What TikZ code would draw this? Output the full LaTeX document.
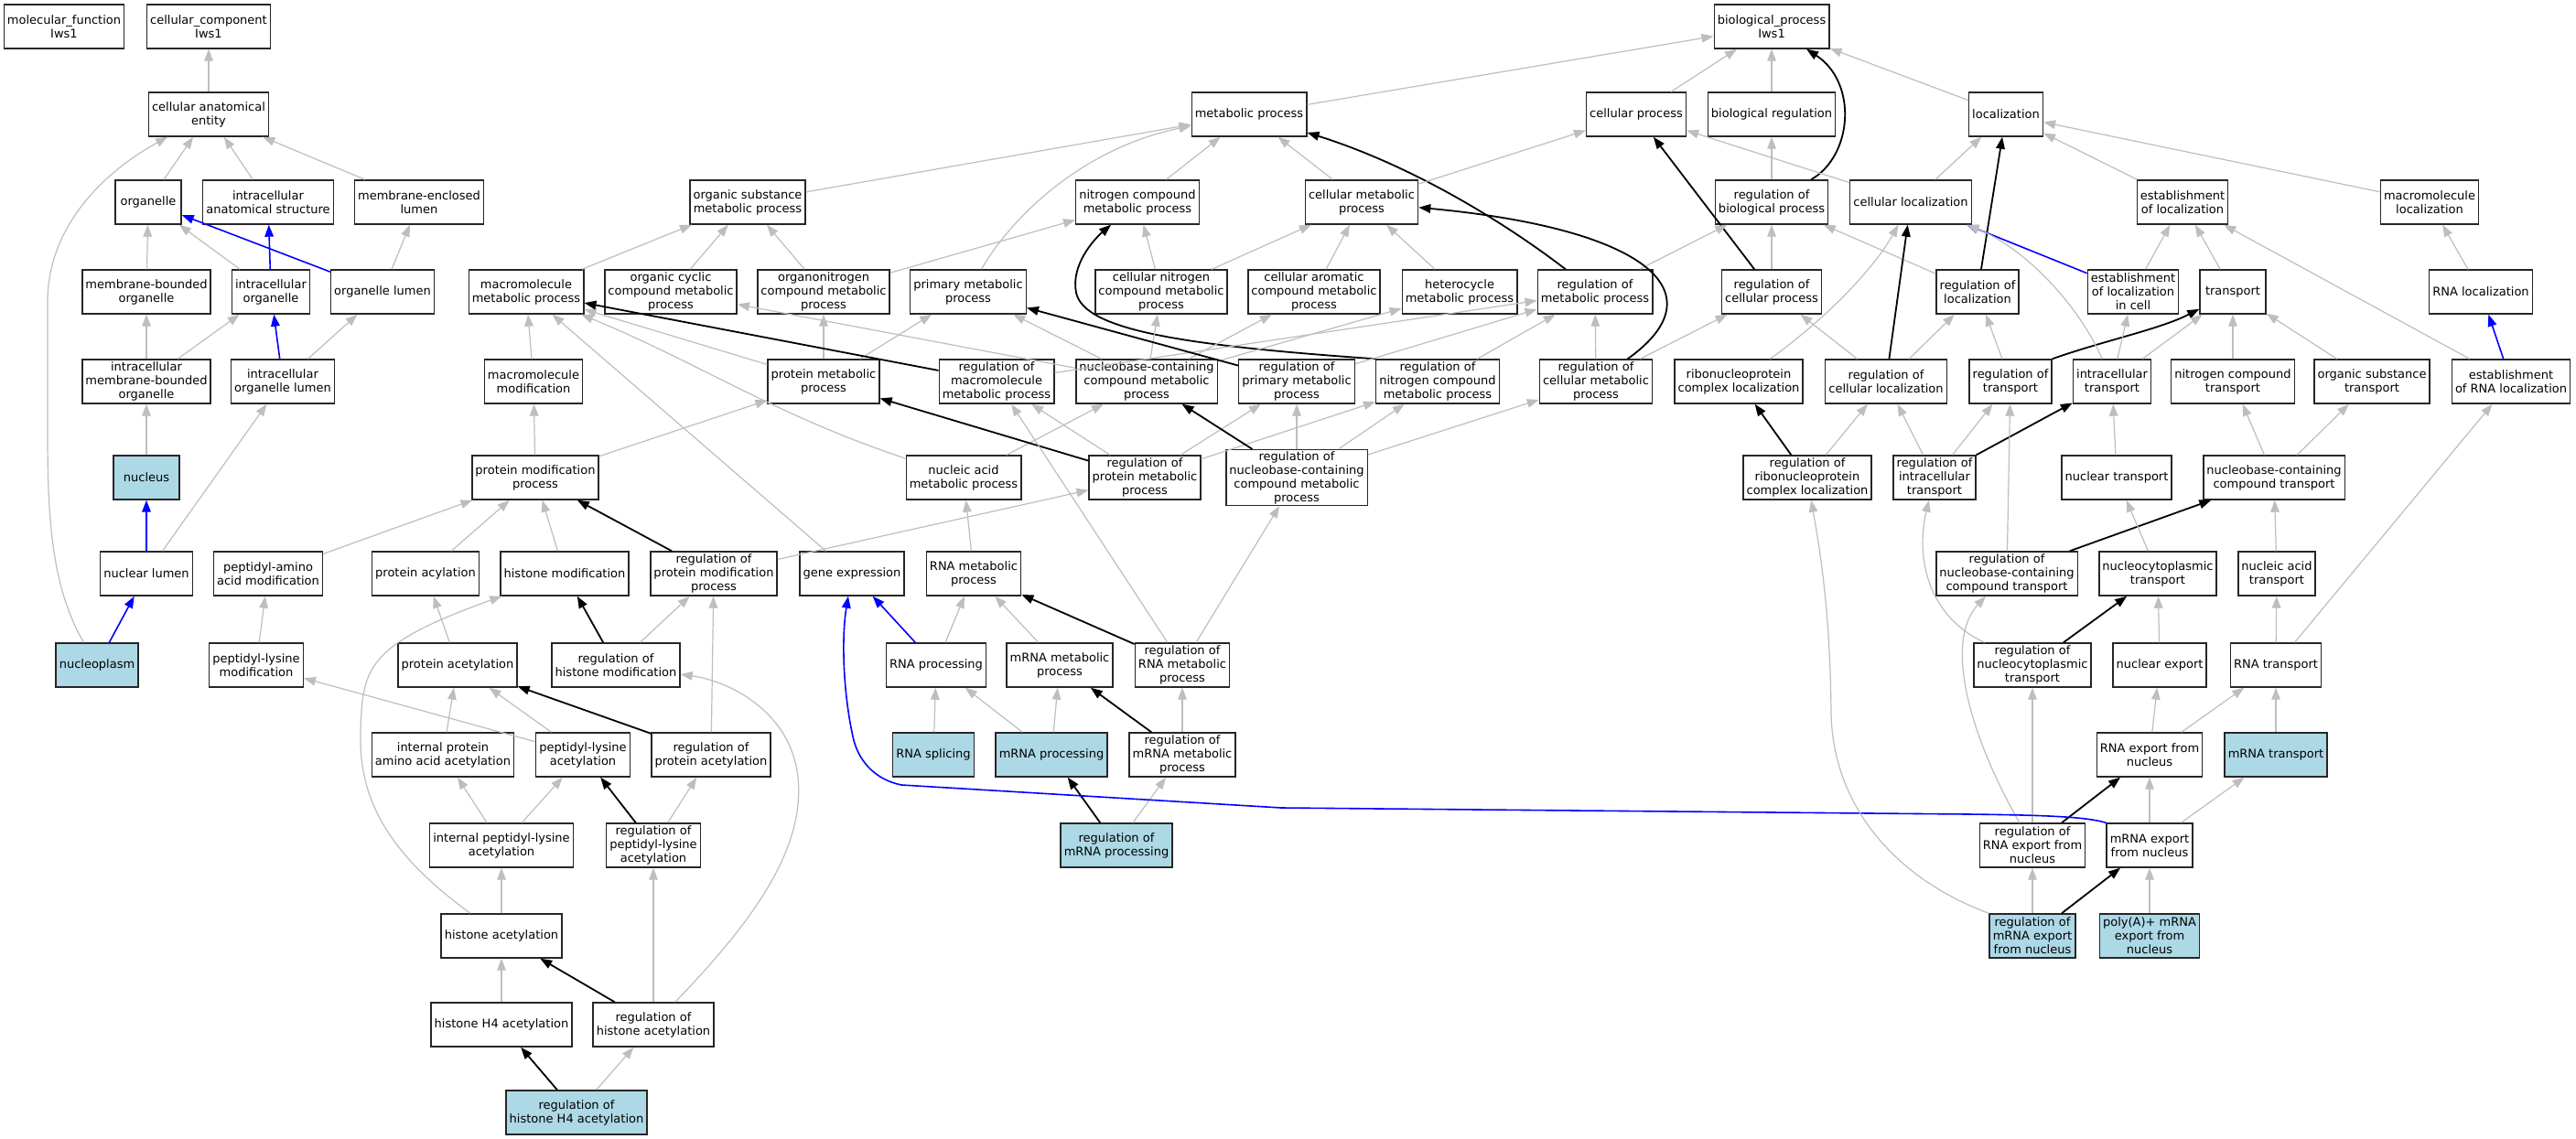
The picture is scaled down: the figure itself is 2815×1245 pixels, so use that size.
\documentclass[tikz,border=0pt]{standalone}
\usepackage{fontspec}
\setmainfont{DejaVu Sans}
\usetikzlibrary{arrows.meta}
\definecolor{hitblue}{HTML}{ADD8E6}
\definecolor{isagray}{HTML}{BEBEBE}

\begin{document}
\begin{tikzpicture}[x=0.5pt, y=-0.5pt,
  term/.style={draw=black!85, line width=0.7pt, fill=white, align=center,
    minimum width=36pt, minimum height=24pt, inner xsep=1.8pt, inner ysep=0.8pt,
    font=\fontsize{6.5pt}{7.5pt}\selectfont},
  hit/.style={term, fill=hitblue},
  isa/.style={draw=isagray, line width=0.6pt, -{Triangle[length=6.5pt,width=4.8pt]}},
  regs/.style={draw=black, line width=0.9pt, -{Triangle[length=6.5pt,width=4.8pt]}},
  partof/.style={draw=blue, line width=0.8pt, -{Triangle[length=6.5pt,width=4.8pt]}}]
  \path[fill=white] (0,0) rectangle (2815,1245);
  \useasboundingbox (0,0) rectangle (2815,1245);

  \node[term] (mf) at (70,29) {molecular\_function\\Iws1};
  \node[term] (cc) at (228,29) {cellular\_component\\Iws1};
  \node[term] (cae) at (228,125) {cellular anatomical\\entity};
  \node[term] (organelle) at (162,221) {organelle};
  \node[term] (intraAnat) at (293,221) {intracellular\\anatomical structure};
  \node[term] (memEnclLumen) at (458,221) {membrane-enclosed\\lumen};
  \node[term] (memBoundOrg) at (160,319) {membrane-bounded\\organelle};
  \node[term] (intraOrg) at (296,319) {intracellular\\organelle};
  \node[term] (orgLumen) at (418,319) {organelle lumen};
  \node[term] (intraMemBoundOrg) at (160,417) {intracellular\\membrane-bounded\\organelle};
  \node[term] (intraOrgLumen) at (309,417) {intracellular\\organelle lumen};
  \node[hit] (nucleus) at (160,522) {nucleus};
  \node[term] (nucLumen) at (160,627) {nuclear lumen};
  \node[hit] (nucleoplasm) at (106,727) {nucleoplasm};

  \node[term] (macroMet) at (575,319) {macromolecule\\metabolic process};
  \node[term] (macroMod) at (583,417) {macromolecule\\modification};
  \node[term] (protMod) at (585,522) {protein modification\\process};
  \node[term] (peptAAMod) at (293,627) {peptidyl-amino\\acid modification};
  \node[term] (protAcyl) at (465,627) {protein acylation};
  \node[term] (histMod) at (617,627) {histone modification};
  \node[term] (peptLysMod) at (280,727) {peptidyl-lysine\\modification};
  \node[term] (protAcet) at (500,727) {protein acetylation};
  \node[term] (regHistMod) at (673,727) {regulation of\\histone modification};
  \node[term] (intProtAAAcet) at (484,825) {internal protein\\amino acid acetylation};
  \node[term] (peptLysAcet) at (637,825) {peptidyl-lysine\\acetylation};
  \node[term] (regProtAcet) at (777,825) {regulation of\\protein acetylation};
  \node[term] (intPeptLysAcet) at (548,924) {internal peptidyl-lysine\\acetylation};
  \node[term] (regPeptLysAcet) at (714,924) {regulation of\\peptidyl-lysine\\acetylation};
  \node[term] (histAcet) at (548,1023) {histone acetylation};
  \node[term] (histHFourAcet) at (548,1120) {histone H4 acetylation};
  \node[term] (regHistAcet) at (714,1120) {regulation of\\histone acetylation};
  \node[hit] (regHistHFourAcet) at (630,1216) {regulation of\\histone H4 acetylation};

  \node[term] (metabolic) at (1365,125) {metabolic process};
  \node[term] (orgSubMet) at (817,221) {organic substance\\metabolic process};
  \node[term] (nitroMet) at (1243,221) {nitrogen compound\\metabolic process};
  \node[term] (cellMet) at (1488,221) {cellular metabolic\\process};
  \node[term] (orgCycMet) at (733,319) {organic cyclic\\compound metabolic\\process};
  \node[term] (organoNitroMet) at (900,319) {organonitrogen\\compound metabolic\\process};
  \node[term] (primMet) at (1058,319) {primary metabolic\\process};
  \node[term] (cellNitroMet) at (1269,319) {cellular nitrogen\\compound metabolic\\process};
  \node[term] (cellAromMet) at (1436,319) {cellular aromatic\\compound metabolic\\process};
  \node[term] (heteroMet) at (1595,319) {heterocycle\\metabolic process};
  \node[term] (regMet) at (1743,319) {regulation of\\metabolic process};
  \node[term] (protMet) at (900,417) {protein metabolic\\process};
  \node[term] (regMacroMet) at (1089,417) {regulation of\\macromolecule\\metabolic process};
  \node[term] (nucBaseMet) at (1253,417) {nucleobase-containing\\compound metabolic\\process};
  \node[term] (regPrimMet) at (1417,417) {regulation of\\primary metabolic\\process};
  \node[term] (regNitroMet) at (1571,417) {regulation of\\nitrogen compound\\metabolic process};
  \node[term] (regCellMet) at (1744,417) {regulation of\\cellular metabolic\\process};
  \node[term] (nucAcidMet) at (1053,522) {nucleic acid\\metabolic process};
  \node[term] (regProtMet) at (1251,522) {regulation of\\protein metabolic\\process};
  \node[term] (regNucBaseMet) at (1417,522) {regulation of\\nucleobase-containing\\compound metabolic\\process};
  \node[term] (regProtMod) at (780,627) {regulation of\\protein modification\\process};
  \node[term] (geneExpr) at (931,627) {gene expression};
  \node[term] (rnaMet) at (1064,627) {RNA metabolic\\process};
  \node[term] (rnaProc) at (1023,727) {RNA processing};
  \node[term] (mrnaMet) at (1158,727) {mRNA metabolic\\process};
  \node[term] (regRnaMet) at (1292,727) {regulation of\\RNA metabolic\\process};
  \node[hit] (rnaSplice) at (1020,825) {RNA splicing};
  \node[hit] (mrnaProc) at (1149,825) {mRNA processing};
  \node[term] (regMrnaMet) at (1292,825) {regulation of\\mRNA metabolic\\process};
  \node[hit] (regMrnaProc) at (1220,924) {regulation of\\mRNA processing};

  \node[term] (bp) at (1936,29) {biological\_process\\Iws1};
  \node[term] (cellProc) at (1788,125) {cellular process};
  \node[term] (bioReg) at (1936,125) {biological regulation};
  \node[term] (regBioProc) at (1936,221) {regulation of\\biological process};
  \node[term] (cellLoc) at (2088,221) {cellular localization};
  \node[term] (regCellProc) at (1936,319) {regulation of\\cellular process};
  \node[term] (rnpLoc) at (1900,417) {ribonucleoprotein\\complex localization};
  \node[term] (regCellLoc) at (2061,417) {regulation of\\cellular localization};
  \node[term] (regRnpLoc) at (1975,522) {regulation of\\ribonucleoprotein\\complex localization};

  \node[term] (localization) at (2192,125) {localization};
  \node[term] (estLoc) at (2385,221) {establishment\\of localization};
  \node[term] (macroLoc) at (2655,221) {macromolecule\\localization};
  \node[term] (regLoc) at (2161,319) {regulation of\\localization};
  \node[term] (estLocCell) at (2331,319) {establishment\\of localization\\in cell};
  \node[term] (transport) at (2440,319) {transport};
  \node[term] (rnaLoc) at (2711,319) {RNA localization};
  \node[term] (regTransport) at (2197,417) {regulation of\\transport};
  \node[term] (intraTransport) at (2308,417) {intracellular\\transport};
  \node[term] (nitroTransport) at (2440,417) {nitrogen compound\\transport};
  \node[term] (orgSubTransport) at (2592,417) {organic substance\\transport};
  \node[term] (estRnaLoc) at (2744,417) {establishment\\of RNA localization};
  \node[term] (regIntraTransport) at (2114,522) {regulation of\\intracellular\\transport};
  \node[term] (nucTransport) at (2313,522) {nuclear transport};
  \node[term] (nucBaseTransport) at (2485,522) {nucleobase-containing\\compound transport};
  \node[term] (regNucBaseTransport) at (2193,627) {regulation of\\nucleobase-containing\\compound transport};
  \node[term] (nucCytoTransport) at (2358,627) {nucleocytoplasmic\\transport};
  \node[term] (nucAcidTransport) at (2488,627) {nucleic acid\\transport};
  \node[term] (regNucCytoTransport) at (2221,727) {regulation of\\nucleocytoplasmic\\transport};
  \node[term] (nucExport) at (2360,727) {nuclear export};
  \node[term] (rnaTransport) at (2487,727) {RNA transport};
  \node[term] (rnaExport) at (2349,825) {RNA export from\\nucleus};
  \node[hit] (mrnaTransport) at (2487,825) {mRNA transport};
  \node[term] (regRnaExport) at (2221,924) {regulation of\\RNA export from\\nucleus};
  \node[term] (mrnaExport) at (2349,924) {mRNA export\\from nucleus};
  \node[hit] (regMrnaExport) at (2221,1023) {regulation of\\mRNA export\\from nucleus};
  \node[hit] (polyAExport) at (2349,1023) {poly(A)+ mRNA\\export from\\nucleus};

  \draw[isa] (cae) -- (cc);
  \draw[isa] (organelle) -- (cae);
  \draw[isa] (intraAnat) -- (cae);
  \draw[isa] (memEnclLumen) -- (cae);
  \draw[isa] (nucleoplasm) .. controls (55,640) and (52,560) .. (52,470) -- (52,330) .. controls (52,250) and (110,190) .. (cae);
  \draw[isa] (memBoundOrg) -- (organelle);
  \draw[isa] (intraOrg) -- (organelle);
  \draw[partof] (orgLumen) -- (organelle);
  \draw[partof] (intraOrg) -- (intraAnat);
  \draw[isa] (orgLumen) -- (memEnclLumen);
  \draw[isa] (intraMemBoundOrg) -- (memBoundOrg);
  \draw[isa] (intraMemBoundOrg) -- (intraOrg);
  \draw[partof] (intraOrgLumen) -- (intraOrg);
  \draw[isa] (intraOrgLumen) -- (orgLumen);
  \draw[isa] (nucleus) -- (intraMemBoundOrg);
  \draw[partof] (nucLumen) -- (nucleus);
  \draw[isa] (nucLumen) -- (intraOrgLumen);
  \draw[partof] (nucleoplasm) -- (nucLumen);

  \draw[isa] (metabolic) -- (bp);
  \draw[isa] (cellProc) -- (bp);
  \draw[isa] (bioReg) -- (bp);
  \draw[isa] (localization) -- (bp);
  \draw[regs] (regBioProc) .. controls (2025,170) and (2030,90) .. (bp);
  \draw[isa] (orgSubMet) -- (metabolic);
  \draw[isa] (primMet) .. controls (1110,230) and (1190,160) .. (metabolic);
  \draw[isa] (nitroMet) -- (metabolic);
  \draw[isa] (cellMet) -- (metabolic);
  \draw[regs] (regMet) .. controls (1640,240) and (1540,180) .. (metabolic);
  \draw[isa] (cellMet) -- (cellProc);
  \draw[isa] (cellLoc) -- (cellProc);
  \draw[regs] (regCellProc) -- (cellProc);
  \draw[isa] (regBioProc) -- (bioReg);
  \draw[isa] (regCellProc) -- (regBioProc);
  \draw[isa] (regMet) -- (regBioProc);
  \draw[isa] (regLoc) -- (regBioProc);

  \draw[isa] (orgCycMet) -- (orgSubMet);
  \draw[isa] (organoNitroMet) -- (orgSubMet);
  \draw[isa] (macroMet) -- (orgSubMet);
  \draw[isa] (organoNitroMet) -- (nitroMet);
  \draw[isa] (cellNitroMet) -- (nitroMet);
  \draw[regs] (regNitroMet.north west) .. controls (1300,378) and (1185,362) .. (1176,320) .. controls (1170,290) and (1195,262) .. (nitroMet);
  \draw[isa] (cellNitroMet) -- (cellMet);
  \draw[isa] (cellAromMet) -- (cellMet);
  \draw[isa] (heteroMet) -- (cellMet);
  \draw[regs] (regCellMet) .. controls (1880,320) and (1800,250) .. (cellMet);
  \draw[isa] (protMet) -- (macroMet);
  \draw[isa] (protMet) -- (organoNitroMet);
  \draw[isa] (protMet) -- (primMet);
  \draw[regs] (regMacroMet) -- (macroMet);
  \draw[isa] (regMacroMet) -- (regMet);
  \draw[isa] (nucBaseMet) -- (orgCycMet);
  \draw[isa] (nucBaseMet) -- (primMet);
  \draw[isa] (nucBaseMet) -- (cellNitroMet);
  \draw[isa] (nucBaseMet) -- (cellAromMet);
  \draw[isa] (nucBaseMet) -- (heteroMet);
  \draw[regs] (regPrimMet) -- (primMet);
  \draw[isa] (regPrimMet) -- (regMet);
  \draw[isa] (regNitroMet) -- (regMet);
  \draw[isa] (regCellMet) -- (regMet);
  \draw[isa] (regCellMet) -- (regCellProc);
  \draw[isa] (nucAcidMet) -- (nucBaseMet);
  \draw[isa] (nucAcidMet) .. controls (850,455) and (760,395) .. (macroMet);
  \draw[regs] (regProtMet) -- (protMet);
  \draw[isa] (regProtMet) -- (regMacroMet);
  \draw[isa] (regProtMet) -- (regPrimMet);
  \draw[isa] (regProtMet) -- (regNitroMet);
  \draw[regs] (regNucBaseMet) -- (nucBaseMet);
  \draw[isa] (regNucBaseMet) -- (regPrimMet);
  \draw[isa] (regNucBaseMet) -- (regNitroMet);
  \draw[isa] (regNucBaseMet) -- (regCellMet);
  \draw[isa] (geneExpr) -- (macroMet);
  \draw[isa] (rnaMet) -- (nucAcidMet);
  \draw[isa] (rnaProc) -- (rnaMet);
  \draw[partof] (rnaProc) -- (geneExpr);
  \draw[isa] (mrnaMet) -- (rnaMet);
  \draw[regs] (regRnaMet) -- (rnaMet);
  \draw[isa] (regRnaMet) -- (regMacroMet);
  \draw[isa] (regRnaMet) -- (regNucBaseMet);
  \draw[isa] (rnaSplice) -- (rnaProc);
  \draw[isa] (mrnaProc) -- (rnaProc);
  \draw[isa] (mrnaProc) -- (mrnaMet);
  \draw[regs] (regMrnaMet) -- (mrnaMet);
  \draw[isa] (regMrnaMet) -- (regRnaMet);
  \draw[regs] (regMrnaProc) -- (mrnaProc);
  \draw[isa] (regMrnaProc) -- (regMrnaMet);

  \draw[isa] (macroMod) -- (macroMet);
  \draw[isa] (protMod) -- (macroMod);
  \draw[isa] (protMod) -- (protMet);
  \draw[isa] (peptAAMod) -- (protMod);
  \draw[isa] (protAcyl) -- (protMod);
  \draw[isa] (histMod) -- (protMod);
  \draw[regs] (regProtMod) -- (protMod);
  \draw[isa] (regProtMod) -- (regProtMet);
  \draw[isa] (peptLysMod) -- (peptAAMod);
  \draw[isa] (protAcet) -- (protAcyl);
  \draw[regs] (regHistMod) -- (histMod);
  \draw[isa] (regHistMod) -- (regProtMod);
  \draw[isa] (histAcet) .. controls (420,930) and (392,870) .. (394,800) .. controls (396,730) and (400,705) .. (histMod);
  \draw[isa] (peptLysAcet) -- (peptLysMod);
  \draw[isa] (peptLysAcet) -- (protAcet);
  \draw[isa] (intProtAAAcet) -- (protAcet);
  \draw[regs] (regProtAcet) -- (protAcet);
  \draw[isa] (regProtAcet) -- (regProtMod);
  \draw[isa] (intPeptLysAcet) -- (intProtAAAcet);
  \draw[isa] (intPeptLysAcet) -- (peptLysAcet);
  \draw[regs] (regPeptLysAcet) -- (peptLysAcet);
  \draw[isa] (regPeptLysAcet) -- (regProtAcet);
  \draw[isa] (histAcet) -- (intPeptLysAcet);
  \draw[regs] (regHistAcet) -- (histAcet);
  \draw[isa] (regHistAcet) -- (regPeptLysAcet);
  \draw[isa] (regHistAcet) .. controls (820,1010) and (880,930) .. (872,850) .. controls (865,780) and (800,745) .. (regHistMod);
  \draw[isa] (histHFourAcet) -- (histAcet);
  \draw[regs] (regHistHFourAcet) -- (histHFourAcet);
  \draw[isa] (regHistHFourAcet) -- (regHistAcet);

  \draw[isa] (cellLoc) -- (localization);
  \draw[isa] (estLoc) -- (localization);
  \draw[isa] (macroLoc) -- (localization);
  \draw[regs] (regLoc) -- (localization);
  \draw[partof] (estLocCell) -- (cellLoc);
  \draw[isa] (estLocCell) -- (estLoc);
  \draw[isa] (transport) -- (estLoc);
  \draw[isa] (estRnaLoc) -- (estLoc);
  \draw[isa] (rnaLoc) -- (macroLoc);
  \draw[partof] (estRnaLoc) -- (rnaLoc);
  \draw[isa] (regTransport) -- (regLoc);
  \draw[regs] (regTransport.north east) .. controls (2300,372) and (2360,360) .. (transport);
  \draw[isa] (intraTransport) .. controls (2270,330) and (2210,270) .. (cellLoc);
  \draw[isa] (intraTransport) -- (estLocCell);
  \draw[isa] (intraTransport) -- (transport);
  \draw[isa] (nitroTransport) -- (transport);
  \draw[isa] (orgSubTransport) -- (transport);
  \draw[isa] (rnpLoc) .. controls (2000,345) and (2050,290) .. (cellLoc);
  \draw[regs] (regCellLoc) -- (cellLoc);
  \draw[isa] (regCellLoc) -- (regCellProc);
  \draw[isa] (regCellLoc) -- (regLoc);
  \draw[regs] (regRnpLoc) -- (rnpLoc);
  \draw[isa] (regRnpLoc) -- (regCellLoc);
  \draw[isa] (regIntraTransport) -- (regCellLoc);
  \draw[regs] (regIntraTransport) -- (intraTransport);
  \draw[isa] (regIntraTransport) -- (regTransport);
  \draw[isa] (nucTransport) -- (intraTransport);
  \draw[isa] (nucBaseTransport) -- (nitroTransport);
  \draw[isa] (nucBaseTransport) -- (orgSubTransport);
  \draw[regs] (regNucBaseTransport) -- (nucBaseTransport);
  \draw[isa] (regNucBaseTransport) -- (regTransport);
  \draw[isa] (nucCytoTransport) -- (nucTransport);
  \draw[isa] (nucAcidTransport) -- (nucBaseTransport);
  \draw[regs] (regNucCytoTransport) -- (nucCytoTransport);
  \draw[isa] (regNucCytoTransport) .. controls (2100,670) and (2095,600) .. (regIntraTransport);
  \draw[isa] (nucExport) -- (nucCytoTransport);
  \draw[isa] (rnaTransport) -- (nucAcidTransport);
  \draw[isa] (rnaTransport) -- (estRnaLoc);
  \draw[isa] (rnaExport) -- (nucExport);
  \draw[isa] (rnaExport) -- (rnaTransport);
  \draw[isa] (mrnaTransport) -- (rnaTransport);
  \draw[regs] (regRnaExport) -- (rnaExport);
  \draw[isa] (regRnaExport) -- (regNucCytoTransport);
  \draw[isa] (regRnaExport) .. controls (2150,800) and (2125,700) .. (regNucBaseTransport);
  \draw[isa] (mrnaExport) -- (rnaExport);
  \draw[isa] (mrnaExport) -- (mrnaTransport);
  \draw[partof] (mrnaExport.north west) .. controls (2280,893) and (2240,891) .. (2150,890) -- (1400,883) -- (985,858) .. controls (955,852) and (937,830) .. (932,805) .. controls (922,760) and (919,700) .. (geneExpr);
  \draw[isa] (regMrnaExport) -- (regRnaExport);
  \draw[regs] (regMrnaExport) -- (mrnaExport);
  \draw[isa] (regMrnaExport.north west) .. controls (2070,960) and (2003,880) .. (2001,780) .. controls (2000,680) and (1992,620) .. (regRnpLoc);
  \draw[isa] (polyAExport) -- (mrnaExport);
\end{tikzpicture}
\end{document}
